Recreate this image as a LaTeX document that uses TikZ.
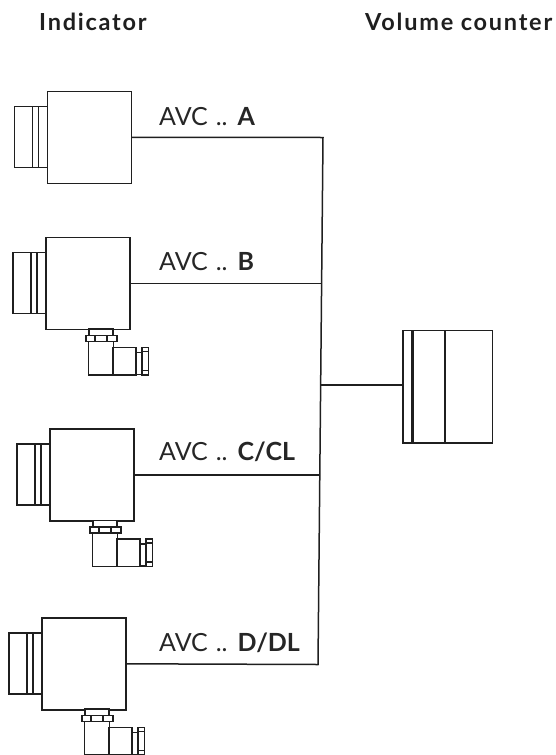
\documentclass[tikz,border=0pt]{standalone}
\usepackage{fontspec}
\setmainfont{Lato}
\newcommand{\dotgap}{\kern1.5pt}
\tikzset{
  part/.style={draw=black!88,line width=1.5pt,rectangle,fill=white,inner sep=0pt,outer sep=0pt},
  wire/.style={draw=black!88,line width=1.5pt},
  detail/.style={draw=black!88,line width=1.6pt},
  thick detail/.style={draw=black!88,line width=2.4pt},
  head/.style={font=\fontsize{23.5}{26}\selectfont\bfseries\addfontfeature{LetterSpace=7.5},text=black!88,anchor=base west,inner sep=0pt},
  tag/.style={font=\fontsize{25}{28}\selectfont,text=black!85,anchor=base west,inner sep=0pt},
}
% #1 name, #2 dx, #3 dy, main body
\newcommand{\bodyAt}[3]{%
  \node[part,minimum width=84pt,minimum height=92pt] (#1) at (#2+88,#3+283.3) {};
  \node[part,minimum width=33pt,minimum height=61.4pt] (#1cap) at (#2+29.5,#3+283) {};
  \draw[detail] (#2+31,#3+252.3) -- (#2+31,#3+313.7);
  \draw[detail] (#2+37,#3+252.3) -- (#2+37,#3+313.7);
}
% connector plug, same offsets
\newcommand{\plugAt}[3]{%
  \node[part,minimum width=24pt,minimum height=7pt] (#1neck) at (#2+101,#3+332.5) {};
  \node[part,minimum width=31pt,minimum height=6pt] (#1nut) at (#2+101.5,#3+338.5) {};
  \draw[detail] (#2+95,#3+335.5) -- (#2+95,#3+341.5) (#2+107,#3+335.5) -- (#2+107,#3+341.5);
  \node[part,minimum width=25pt,minimum height=33.5pt] (#1box) at (#2+101,#3+358) {};
  \node[part,minimum width=23pt,minimum height=27.5pt] (#1side) at (#2+124.5,#3+361) {};
  \node[part,minimum width=6pt,minimum height=22pt] (#1col) at (#2+139,#3+363.5) {};
  \node[part,minimum width=6.5pt,minimum height=27.5pt] (#1fl) at (#2+145,#3+361) {};
  \draw[detail] (#2+142,#3+351.5) -- (#2+148,#3+351.5) (#2+142,#3+370.5) -- (#2+148,#3+370.5);
}
\begin{document}
\begin{tikzpicture}[x=1pt,y=-1pt]
\useasboundingbox (0,0) rectangle (556,755);
\node[head] (hi) at (39,30) {Indicator};
\node[head] (hv) at (365,30) {Volume counter};

\bodyAt{a}{1.5}{-146}
\bodyAt{b}{0}{0}
\bodyAt{c}{4}{191.5}
\bodyAt{d}{-4}{380.5}
\plugAt{b}{0}{0}
\plugAt{c}{4}{191.5}
\plugAt{d}{-4}{380}

\node[tag] (ta) at (159,125) {AVC\dotgap{} ..\dotgap{} \textbf{A}};
\node[tag] (tb) at (159,270.5) {AVC\dotgap{} ..\dotgap{} \textbf{B}};
\node[tag] (tc) at (159,460.5) {AVC\dotgap{} ..\dotgap{} \textbf{C/CL}};
\node[tag] (td) at (159,651) {AVC\dotgap{} ..\dotgap{} \textbf{D/DL}};

\node[part,minimum width=89.5pt,minimum height=112.5pt] (vc) at (447.5,386.5) {};
\draw[thick detail] (412.3,330.2) -- (412.3,442.8);
\draw[detail] (445,330.2) -- (445,442.8);

\coordinate (j1) at (323,137.5);
\coordinate (j2) at (321.6,283.3);
\coordinate (j3) at (319.8,474.8);
\coordinate (j4) at (318,664.5);
\coordinate (jv) at (320.6,385);
\draw[wire] (a.east) -- (j1) -- (j4) -- (d.east);
\draw[wire] (b.east) -- (j2);
\draw[wire] (c.east) -- (j3);
\draw[wire] (jv) -- (vc.west|-jv);
\end{tikzpicture}
\end{document}
